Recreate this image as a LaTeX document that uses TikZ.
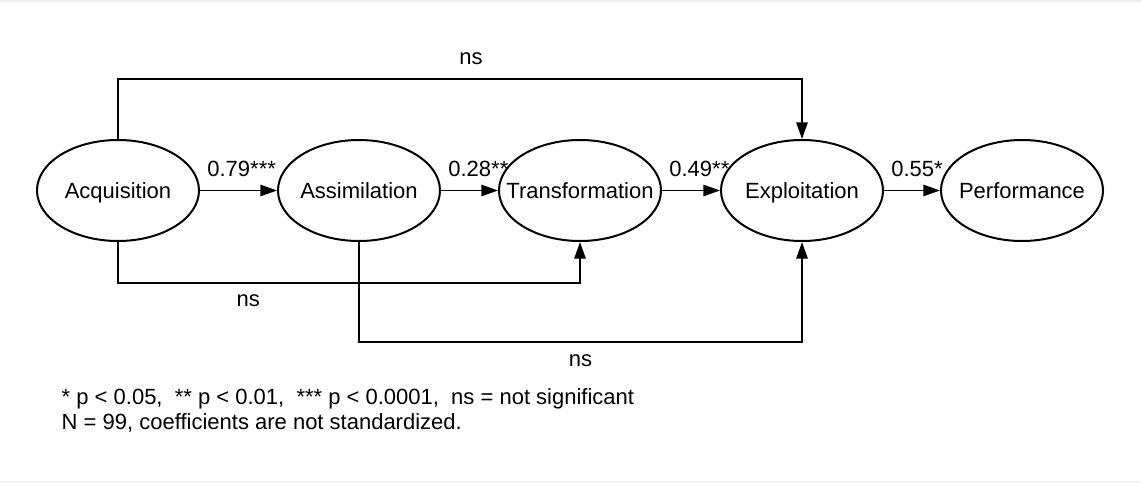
\documentclass[tikz,border=0pt]{standalone}
\usepackage{fontspec}
\setmainfont{Liberation Sans}
\usetikzlibrary{arrows.meta,shapes.geometric}
\begin{document}
\begin{tikzpicture}[x=0.75pt,y=-0.75pt,
    construct/.style={draw, ellipse, line width=1.5pt, minimum width=121.5pt,
        minimum height=75.75pt, inner xsep=-40pt, inner ysep=0pt, text height=11.8pt, text depth=0pt},
    link/.style={line width=1.4pt, -{Triangle[length=12.5pt,width=8.5pt]}},
    coef/.style={pos=0, anchor=base west, xshift=1.5pt, yshift=10.5pt},
    nslabel/.style={anchor=base}]
    \tikzstyle{every node}+=[font=\fontsize{16.5}{18.75}\selectfont]
    \useasboundingbox (0,0) rectangle (1141,482);
    \fill [black!7] (0,0) rectangle (1141,1.5);
    \fill [black!7] (0,480.5) rectangle (1141,482);
    \node [construct] (acq) at (118,190.5) {Acquisition};
    \node [construct] (asm) at (359,190.5) {Assimilation};
    \node [construct] (trf) at (580,190.5) {Transformation};
    \node [construct] (exp) at (802,190.5) {Exploitation};
    \node [construct] (perf) at (1022,190.5) {Performance};
    \draw [link] (acq) -- node [coef] {0.79***} (asm);
    \draw [link] (asm) -- node [coef] {0.28**} (trf);
    \draw [link] (trf) -- node [coef] {0.49**} (exp);
    \draw [link] (exp) -- node [coef] {0.55*} (perf);
    \draw [link] (acq.north) -- ++(0,-60) -| node [nslabel, pos=0.258, yshift=11.25pt] {ns} (exp.north);
    \draw [link] (acq.south) -- ++(0,41) -| node [nslabel, pos=0.141, yshift=-17.25pt] {ns} (trf.south);
    \draw [link] (asm.south) -- ++(0,100) -| node [nslabel, pos=0.25, yshift=-18pt] {ns} (exp.south);
    \node [anchor=base west] (note1) at (57,404) {* p < 0.05,\ \ ** p < 0.01,\ \ *** p < 0.0001,\ \ ns = not significant};
    \node [anchor=base west] (note2) at (57,429) {N = 99, coefficients are not standardized.};
\end{tikzpicture}
\end{document}
